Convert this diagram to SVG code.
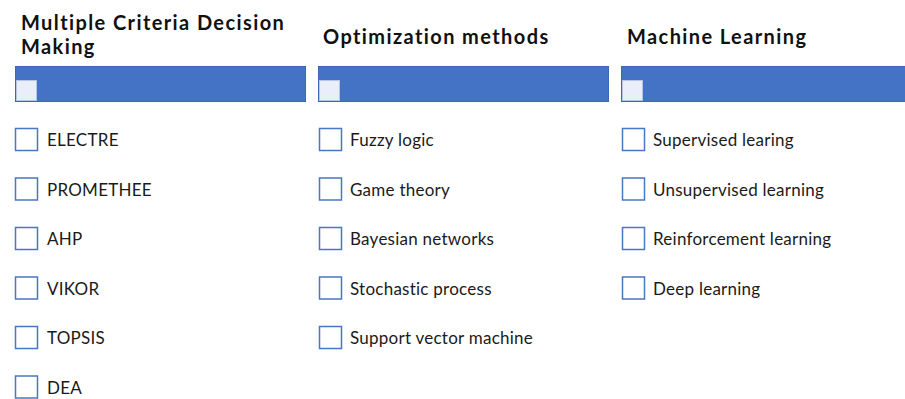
<svg xmlns="http://www.w3.org/2000/svg" width="905" height="399" viewBox="0 0 905 399">
  <style>
    .title { font-family: Lato, "Open Sans", sans-serif; font-weight: bold; font-size: 20px; letter-spacing: 1.4px; fill: #111; }
    .label { font-family: Lato, "Open Sans", sans-serif; font-size: 17px; letter-spacing: 0.25px; fill: #1a1a1a; }
    .bar { fill: #4472C4; stroke: #3F68B4; stroke-width: 1; }
    .chip { fill: #E9EEF8; stroke: #B4C5E4; stroke-width: 1; }
    .box { fill: #FFFFFF; stroke: #4A76C6; stroke-width: 1.5; }
  </style>
  <rect width="905" height="399" fill="#FFFFFF"/>

  <!-- Column 1: Multiple Criteria Decision Making -->
  <g id="mcdm">
    <text class="title" x="21" y="30">Multiple Criteria Decision<tspan x="21" dy="24">Making</tspan></text>
    <rect class="bar" x="15.5" y="66.5" width="290" height="35"/>
    <rect class="chip" x="16.5" y="80.5" width="20" height="20"/>
    <g id="electre"><rect class="box" x="15.5" y="128.5" width="22" height="22"/><text class="label" x="47" y="146">ELECTRE</text></g>
    <g id="promethee"><rect class="box" x="15.5" y="178" width="22" height="22"/><text class="label" x="47" y="195.5">PROMETHEE</text></g>
    <g id="ahp"><rect class="box" x="15.5" y="227.5" width="22" height="22"/><text class="label" x="47" y="245">AHP</text></g>
    <g id="vikor"><rect class="box" x="15.5" y="277" width="22" height="22"/><text class="label" x="47" y="294.5">VIKOR</text></g>
    <g id="topsis"><rect class="box" x="15.5" y="326.5" width="22" height="22"/><text class="label" x="47" y="344">TOPSIS</text></g>
    <g id="dea"><rect class="box" x="15.5" y="376" width="22" height="22"/><text class="label" x="47" y="393.5">DEA</text></g>
  </g>

  <!-- Column 2: Optimization methods -->
  <g id="optimization">
    <text class="title" x="323" y="44">Optimization methods</text>
    <rect class="bar" x="318.5" y="66.5" width="290" height="35"/>
    <rect class="chip" x="319.5" y="80.5" width="20" height="20"/>
    <g id="fuzzy"><rect class="box" x="319.5" y="128.5" width="22" height="22"/><text class="label" x="350" y="146">Fuzzy logic</text></g>
    <g id="game"><rect class="box" x="319.5" y="178" width="22" height="22"/><text class="label" x="350" y="195.5">Game theory</text></g>
    <g id="bayesian"><rect class="box" x="319.5" y="227.5" width="22" height="22"/><text class="label" x="350" y="245">Bayesian networks</text></g>
    <g id="stochastic"><rect class="box" x="319.5" y="277" width="22" height="22"/><text class="label" x="350" y="294.5">Stochastic process</text></g>
    <g id="svm"><rect class="box" x="319.5" y="326.5" width="22" height="22"/><text class="label" x="350" y="344">Support vector machine</text></g>
  </g>

  <!-- Column 3: Machine Learning -->
  <g id="ml">
    <text class="title" x="627" y="44">Machine Learning</text>
    <rect class="bar" x="621.5" y="66.5" width="290" height="35"/>
    <rect class="chip" x="622.5" y="80.5" width="20" height="20"/>
    <g id="supervised"><rect class="box" x="622.5" y="128.5" width="22" height="22"/><text class="label" x="653" y="146">Supervised learing</text></g>
    <g id="unsupervised"><rect class="box" x="622.5" y="178" width="22" height="22"/><text class="label" x="653" y="195.5">Unsupervised learning</text></g>
    <g id="reinforcement"><rect class="box" x="622.5" y="227.5" width="22" height="22"/><text class="label" x="653" y="245">Reinforcement learning</text></g>
    <g id="deep"><rect class="box" x="622.5" y="277" width="22" height="22"/><text class="label" x="653" y="294.5">Deep learning</text></g>
  </g>

  <!-- no connectors in this layout -->
  <g id="connectors"/>
</svg>
